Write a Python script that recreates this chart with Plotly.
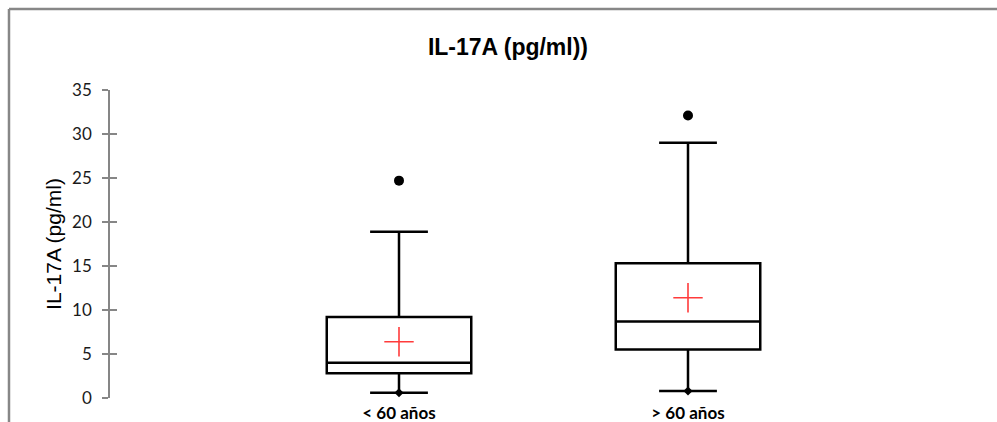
import plotly.graph_objects as go

# Group labels and summary statistics (pg/ml)
categories = ["< 60 años", "> 60 años"]
positions = [1, 2]
lower_whisker = [0.6, 0.8]
q1 = [2.8, 5.5]
median = [4.0, 8.7]
q3 = [9.2, 15.3]
upper_whisker = [18.9, 29.0]
mean = [6.4, 11.4]
outliers = [24.7, 32.1]

y_ticks = [0, 5, 10, 15, 20, 25, 30, 35]

fig = go.Figure()

fig.add_trace(go.Box(
    x=positions,
    q1=q1, median=median, q3=q3,
    lowerfence=lower_whisker, upperfence=upper_whisker,
    width=0.5, whiskerwidth=0.4,
    line=dict(color="black", width=2.5),
    fillcolor="white",
    boxpoints=False,
    hoverinfo="skip",
    showlegend=False,
))

# Mean shown as a red cross
fig.add_trace(go.Scatter(
    x=positions, y=mean, mode="markers",
    marker=dict(symbol="cross-thin", size=21, color="#ff3b3b",
                line=dict(color="#ff3b3b", width=1.6)),
    showlegend=False, hoverinfo="skip",
))

# Outliers
fig.add_trace(go.Scatter(
    x=positions, y=outliers, mode="markers",
    marker=dict(symbol="circle", size=10, color="black"),
    showlegend=False, hoverinfo="skip",
))

# Minimum markers at the lower whisker ends (on the overlay axis used for inner ticks)
fig.add_trace(go.Scatter(
    x=positions, y=lower_whisker, mode="markers",
    marker=dict(symbol="diamond", size=7, color="black"),
    yaxis="y2",
    showlegend=False, hoverinfo="skip",
))

axis_gray = "#868686"

fig.update_layout(
    width=997, height=422,
    margin=dict(l=110, r=20, t=90, b=24),
    paper_bgcolor="white",
    plot_bgcolor="white",
    title=dict(
        text="<b>IL-17A (pg/ml))</b>",
        font=dict(family="Liberation Sans, Arial, sans-serif", size=23, color="black"),
        xref="container", x=0.5095, xanchor="center",
        yref="container", y=1 - 47 / 422, yanchor="middle",
    ),
    xaxis=dict(
        range=[0, 3],
        tickvals=positions, ticktext=categories,
        tickfont=dict(family="Lato, sans-serif", size=17, color="black", weight="bold"),
        showline=False, showgrid=False, zeroline=False, ticks="",
        ticklabelstandoff=3,
        automargin=False,
    ),
    yaxis=dict(
        range=[0, 35],
        tickvals=y_ticks,
        tickfont=dict(family="Lato, sans-serif", size=17, color="#1a1a1a"),
        showline=True, linecolor=axis_gray, linewidth=1.5,
        ticks="outside", ticklen=6, tickwidth=1.5, tickcolor=axis_gray,
        ticklabelstandoff=7,
        showgrid=False, zeroline=False,
        automargin=False,
        title=dict(text="IL-17A (pg/ml)",
                   font=dict(family="Liberation Sans, Arial, sans-serif", size=21, color="black"),
                   standoff=5),
    ),
    yaxis2=dict(
        range=[0, 35],
        tickvals=y_ticks,
        overlaying="y", anchor="x", side="left",
        showticklabels=False, showline=False, showgrid=False, zeroline=False,
        ticks="inside", ticklen=7, tickwidth=1.5, tickcolor=axis_gray,
        automargin=False,
    ),
    shapes=[
        # chart frame (left and top edges)
        dict(type="line", xref="paper", yref="paper",
             x0=-0.1165, x1=-0.1165, y0=-0.3, y1=1.263,
             line=dict(color="#878787", width=2.5)),
        dict(type="line", xref="paper", yref="paper",
             x0=-0.1165, x1=1.2, y0=1.263, y1=1.263,
             line=dict(color="#878787", width=2.5)),
    ],
)

fig.write_html("out.html")
